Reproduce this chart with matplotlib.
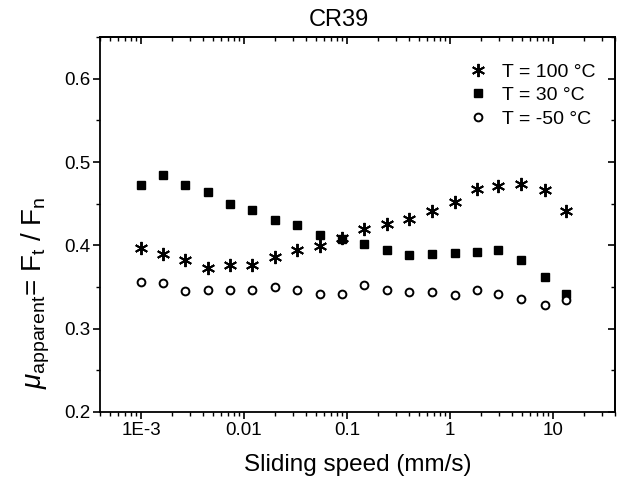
import matplotlib
matplotlib.use("Agg")
import matplotlib.pyplot as plt
from matplotlib.ticker import LogLocator, MultipleLocator, FixedLocator, FixedFormatter, NullFormatter

plt.rcParams['font.family'] = ['Liberation Sans', 'DejaVu Sans']
plt.rcParams['mathtext.fontset'] = 'custom'
plt.rcParams['mathtext.rm'] = 'Liberation Sans'
plt.rcParams['mathtext.it'] = 'Liberation Sans:italic'

speed = [0.001, 0.00162, 0.00268, 0.00446, 0.00736, 0.01205, 0.0200, 0.0327,
         0.0541, 0.0898, 0.147, 0.243, 0.401, 0.667, 1.12, 1.81, 2.94, 4.93,
         8.4, 13.5]
mu_100 = [0.397, 0.390, 0.383, 0.373, 0.376, 0.376, 0.386, 0.395, 0.399, 0.409,
          0.420, 0.426, 0.432, 0.441, 0.452, 0.468, 0.471, 0.474, 0.466, 0.441]
mu_30 = [0.473, 0.484, 0.473, 0.464, 0.450, 0.443, 0.431, 0.424, 0.413, 0.408,
         0.402, 0.395, 0.388, 0.390, 0.391, 0.392, 0.394, 0.382, 0.362, 0.342]
mu_m50 = [0.356, 0.355, 0.345, 0.347, 0.347, 0.346, 0.350, 0.347, 0.342, 0.342,
          0.352, 0.346, 0.344, 0.344, 0.340, 0.346, 0.341, 0.336, 0.328, 0.334]
labels = ['T = 100 °C', 'T = 30 °C', 'T = -50 °C']
xtick_vals = [1e-3, 1e-2, 1e-1, 1, 10]
xtick_labels = ['1E-3', '0.01', '0.1', '1', '10']
ytick_vals = [0.2, 0.3, 0.4, 0.5, 0.6]

W, H = 619, 478
fig = plt.figure(figsize=(W / 100, H / 100), dpi=100)
ax = fig.add_axes([100 / W, 1 - 412 / H, 515 / W, 375 / H])

ax.plot(speed, mu_100, linestyle='none', marker=(6, 2, 0), markersize=9.5,
        markeredgewidth=1.4, color='black', label=labels[0])
ax.plot(speed, mu_30, linestyle='none', marker='s', markersize=5.8,
        color='black', label=labels[1])
ax.plot(speed, mu_m50, linestyle='none', marker='o', markersize=5.6,
        markerfacecolor='white', markeredgecolor='black', markeredgewidth=1.4,
        label=labels[2])

ax.set_xscale('log')
ax.set_xlim(4e-4, 40)
ax.set_ylim(0.2, 0.65)

ax.xaxis.set_major_locator(FixedLocator(xtick_vals))
ax.xaxis.set_major_formatter(FixedFormatter(xtick_labels))
ax.xaxis.set_minor_locator(LogLocator(base=10, subs=range(2, 10), numticks=20))
ax.xaxis.set_minor_formatter(NullFormatter())
ax.yaxis.set_major_locator(FixedLocator(ytick_vals))
ax.yaxis.set_major_formatter(FixedFormatter(['0.2', '0.3', '0.4', '0.5', '0.6']))
ax.yaxis.set_minor_locator(MultipleLocator(0.05))

for s in ax.spines.values():
    s.set_linewidth(1.3)
ax.tick_params(which='major', direction='out', length=5, width=1.2, labelsize=13.5, pad=2)
ax.tick_params(which='minor', direction='out', length=3, width=1.0)

secx = ax.secondary_xaxis('top')
secx.xaxis.set_major_locator(FixedLocator(xtick_vals))
secx.xaxis.set_minor_locator(LogLocator(base=10, subs=range(2, 10), numticks=20))
secx.xaxis.set_major_formatter(NullFormatter())
secx.xaxis.set_minor_formatter(NullFormatter())
secx.tick_params(which='major', direction='in', length=5, width=1.2)
secx.tick_params(which='minor', direction='in', length=3, width=1.0)
secx.spines['top'].set_linewidth(1.3)

secy = ax.secondary_yaxis('right')
secy.yaxis.set_major_locator(FixedLocator(ytick_vals))
secy.yaxis.set_minor_locator(MultipleLocator(0.05))
secy.yaxis.set_major_formatter(NullFormatter())
secy.tick_params(which='major', direction='in', length=5, width=1.2)
secy.tick_params(which='minor', direction='in', length=3, width=1.0)
secy.spines['right'].set_linewidth(1.3)

ax.set_xlabel('Sliding speed (mm/s)', fontsize=17.5, labelpad=11)
ax.set_ylabel(r'$\mu_{\mathrm{apparent}}$= F$_{\mathrm{t}}$ / F$_{\mathrm{n}}$', fontsize=20)
ax.yaxis.set_label_coords(-0.093, 0.317)

fig.text(339 / W, 1 - 20 / H, 'CR39', fontsize=17, ha='center', va='center')

ax.legend(loc='upper right', frameon=False, fontsize=14, handletextpad=0.7,
          labelspacing=0.3, borderpad=0, borderaxespad=0, handlelength=1.0,
          bbox_to_anchor=((595 - 100) / 515, (412 - 63) / 375))

fig.savefig('out.png', dpi=100)
